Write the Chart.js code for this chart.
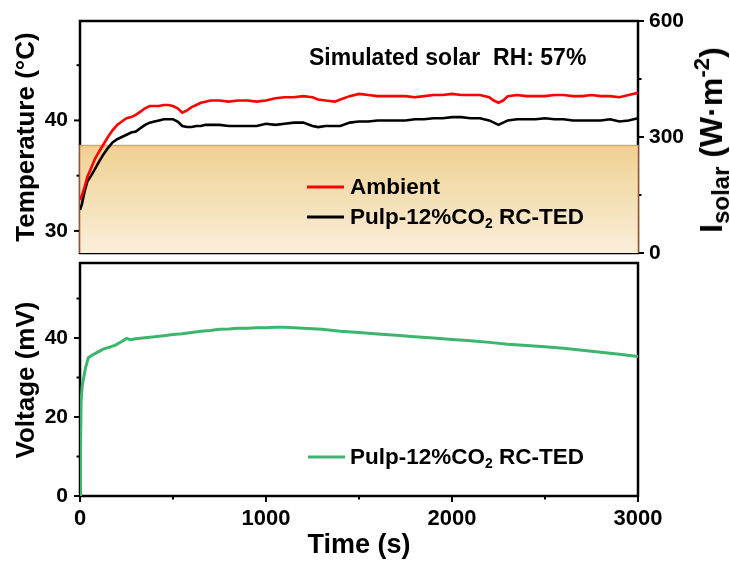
<!DOCTYPE html>
<html>
<head>
<meta charset="utf-8">
<script src="https://cdn.jsdelivr.net/npm/chart.js@4.4.1/dist/chart.umd.min.js"></script>
<style>
  html, body { margin: 0; padding: 0; background: #fff; }
  #wrap { position: relative; width: 730px; height: 563px; overflow: hidden;
          font-family: "Liberation Sans", Arial, sans-serif; font-weight: bold; color: #000; }
  canvas { position: absolute; left: 0; top: 0; }
  .txt { position: absolute; white-space: pre; line-height: 1; transform: translateY(-50%); }
  .rot { position: absolute; white-space: pre; line-height: 1; transform: translate(-50%, -50%) rotate(-90deg); }
  .ctr { position: absolute; white-space: pre; line-height: 1; transform: translate(-50%, -50%); }
  .key { position: absolute; height: 3px; width: 37px; transform: translateY(-50%); }
  sub { font-size: 0.62em; vertical-align: -0.28em; line-height: 0; }
  sup { font-size: 0.62em; vertical-align: 0.6em; line-height: 0; }
  .big sub { font-size: 0.75em; }
  .big sup { font-size: 0.7em; }
</style>
</head>
<body>
<div id="wrap">
  <canvas id="tempCanvas" width="730" height="563"></canvas>
  <canvas id="voltCanvas" width="730" height="563"></canvas>

  <div class="txt" style="left:309px; top:57px; font-size:23px;">Simulated solar  RH: 57%</div>

  <div class="key" style="left:307px; top:187px; background:#ff0000;"></div>
  <div class="txt" style="left:350px; top:187px; font-size:22.5px;">Ambient</div>
  <div class="key" style="left:307px; top:217px; background:#000;"></div>
  <div class="txt" style="left:350px; top:217px; font-size:22.5px;">Pulp-12%CO<sub>2</sub> RC-TED</div>

  <div class="key" style="left:308px; top:457px; background:#3db56f;"></div>
  <div class="txt" style="left:350px; top:457px; font-size:22.5px;">Pulp-12%CO<sub>2</sub> RC-TED</div>

  <div class="rot" style="left:25px; top:137px; font-size:26px;">Temperature (°C)</div>
  <div class="rot" style="left:25px; top:380px; font-size:26px;">Voltage (mV)</div>
  <div class="rot big" style="left:711px; top:140px; font-size:32px;">I<sub>solar</sub> (W·m<sup>-2</sup>)</div>
  <div class="ctr" style="left:359px; top:544px; font-size:27px;">Time (s)</div>
</div>

<script>
// ---- temperature run (s, °C) ----
const timeTemp = [0, 10, 25, 40, 60, 80, 100, 125, 150, 175, 200, 225, 250, 275, 300, 325, 350, 375, 400, 425,
  450, 475, 500, 525, 550, 575, 600, 625, 650, 675, 700, 750, 800, 850, 900, 950, 1000, 1050, 1100, 1150,
  1200, 1250, 1280, 1320, 1370, 1400, 1450, 1500, 1550, 1600, 1650, 1700, 1750, 1800, 1850, 1900, 1950, 2000,
  2050, 2100, 2150, 2200, 2225, 2250, 2275, 2300, 2350, 2400, 2450, 2500, 2550, 2600, 2650, 2700, 2750, 2800,
  2850, 2900, 2950, 3000];
const ambientTemp = [32.8, 33.2, 34.0, 34.9, 35.7, 36.5, 37.1, 37.8, 38.5, 39.1, 39.6, 39.9, 40.2, 40.3, 40.5,
  40.8, 41.1, 41.3, 41.3, 41.3, 41.4, 41.4, 41.3, 41.1, 40.7, 40.9, 41.2, 41.4, 41.6, 41.7, 41.8, 41.8, 41.7,
  41.8, 41.8, 41.7, 41.8, 42.0, 42.1, 42.1, 42.2, 42.1, 41.9, 41.8, 41.7, 41.9, 42.2, 42.4, 42.3, 42.2, 42.2,
  42.2, 42.2, 42.1, 42.2, 42.3, 42.3, 42.4, 42.3, 42.3, 42.3, 42.1, 41.8, 41.6, 41.8, 42.2, 42.3, 42.2, 42.2,
  42.2, 42.3, 42.3, 42.2, 42.2, 42.3, 42.2, 42.2, 42.1, 42.3, 42.5];
const tedTemp = [31.9, 32.4, 33.6, 34.5, 35.0, 35.6, 36.2, 36.9, 37.5, 38.0, 38.3, 38.5, 38.7, 38.9, 39.0,
  39.3, 39.6, 39.8, 39.9, 40.0, 40.1, 40.1, 40.1, 39.9, 39.5, 39.4, 39.4, 39.5, 39.5, 39.6, 39.6, 39.6, 39.5,
  39.5, 39.5, 39.5, 39.7, 39.6, 39.7, 39.8, 39.8, 39.5, 39.4, 39.5, 39.5, 39.5, 39.8, 39.9, 39.9, 40.0, 40.0,
  40.0, 40.0, 40.1, 40.1, 40.2, 40.2, 40.3, 40.3, 40.2, 40.2, 40.0, 39.8, 39.6, 39.8, 40.0, 40.1, 40.1, 40.1,
  40.2, 40.1, 40.1, 40.0, 40.0, 40.0, 40.0, 40.1, 39.9, 40.0, 40.2];

// ---- simulated solar irradiance (W/m²) over the run ----
const solarIrradiance = 278;
const solarSpan = [0, 3000];

// ---- output voltage (s, mV) ----
const timeVolt = [0, 3, 6, 12, 20, 30, 45, 60, 90, 125, 160, 190, 220, 250, 270, 300, 350, 400, 450, 500, 550,
  600, 650, 700, 750, 800, 850, 900, 950, 1000, 1050, 1100, 1150, 1200, 1300, 1400, 1500, 1600, 1700, 1800,
  1900, 2000, 2100, 2200, 2300, 2400, 2500, 2600, 2700, 2800, 2900, 3000];
const voltage = [0, 12, 24, 28, 30, 32.5, 35, 35.5, 36.3, 37.2, 37.7, 38.2, 39.0, 39.9, 39.6, 39.8, 40.1, 40.3,
  40.6, 40.9, 41.1, 41.4, 41.7, 41.9, 42.2, 42.3, 42.5, 42.5, 42.6, 42.6, 42.7, 42.7, 42.6, 42.5, 42.2, 41.7,
  41.4, 41.0, 40.7, 40.3, 40.0, 39.6, 39.3, 38.9, 38.4, 38.1, 37.8, 37.4, 36.9, 36.4, 35.9, 35.3];

// ---- axis ticks ----
const timeTicks = [0, 500, 1000, 1500, 2000, 2500, 3000];
const timeLabels = [0, 1000, 2000, 3000];
const tempTicks = [30, 35, 40, 45];
const tempLabels = [30, 40];
const solarTicks = [0, 150, 300, 450, 600];
const solarLabels = [0, 300, 600];
const voltTicks = [0, 10, 20, 30, 40, 50];
const voltLabels = [0, 20, 40];

const FONT = '"Liberation Sans", Arial, sans-serif';
const tickFont = { family: FONT, size: 21, weight: 'bold' };

const toPoints = (xs, ys) => xs.map((x, i) => ({ x, y: ys[i] }));

// Box frame around the plot area plus outward tick marks (long = labelled, short = minor)
function framePlugin(spec) {
  return {
    id: 'panelFrame',
    beforeDatasetsDraw(chart) {
      const { ctx, chartArea: a } = chart;
      ctx.save();
      ctx.strokeStyle = '#000';
      ctx.lineWidth = 2.5;
      ctx.strokeRect(a.left, a.top, a.right - a.left, a.bottom - a.top);
      ctx.lineWidth = 2;
      spec.forEach(({ id, side, values, major }) => {
        const s = chart.scales[id];
        values.forEach(v => {
          const p = s.getPixelForValue(v);
          const len = major.includes(v) ? 6 : 3.5;
          ctx.beginPath();
          if (side === 'left') { ctx.moveTo(a.left, p); ctx.lineTo(a.left - len, p); }
          else if (side === 'right') { ctx.moveTo(a.right, p); ctx.lineTo(a.right + len, p); }
          else { ctx.moveTo(p, a.bottom); ctx.lineTo(p, a.bottom + len); }
          ctx.stroke();
        });
      });
      ctx.restore();
    }
  };
}

function valueAxis(position, min, max, ticks, labels, width, padding) {
  return {
    type: 'linear', position, min, max,
    afterBuildTicks: s => { s.ticks = ticks.map(v => ({ value: v })); },
    afterFit: s => { s.width = width; },
    grid: { display: false, drawTicks: true, tickLength: 6 },
    border: { display: false },
    ticks: { font: tickFont, color: '#000', padding, autoSkip: false,
             callback: v => (labels.includes(v) ? String(v) : '') }
  };
}

const baseOptions = {
  responsive: false, animation: false, events: [],
  plugins: { legend: { display: false }, tooltip: { enabled: false } }
};

// ---- upper panel: temperatures over the solar-irradiance band ----
new Chart(document.getElementById('tempCanvas'), {
  type: 'line',
  data: {
    datasets: [
      { label: 'Ambient', data: toPoints(timeTemp, ambientTemp), yAxisID: 'yT',
        borderColor: '#ff0000', borderWidth: 2.6, pointRadius: 0, tension: 0, order: 1 },
      { label: 'Pulp-12%CO2 RC-TED', data: toPoints(timeTemp, tedTemp), yAxisID: 'yT',
        borderColor: '#000000', borderWidth: 2.6, pointRadius: 0, tension: 0, order: 2 },
      { label: 'Simulated solar',
        data: [{ x: solarSpan[0], y: 0 }, { x: solarSpan[0], y: solarIrradiance },
               { x: solarSpan[1], y: solarIrradiance }, { x: solarSpan[1], y: 0 }],
        yAxisID: 'yS', fill: 'origin', clip: false, pointRadius: 0, tension: 0, order: 3,
        borderColor: 'rgba(238,150,95,0.9)', borderWidth: 1.3,
        backgroundColor: ctx => {
          const { chart } = ctx;
          const ys = chart.scales.yS;
          if (!ys || !chart.chartArea) return 'rgb(242,220,170)';
          const g = chart.ctx.createLinearGradient(0, ys.getPixelForValue(solarIrradiance), 0, ys.getPixelForValue(0));
          g.addColorStop(0, 'rgb(239,209,146)');
          g.addColorStop(1, 'rgb(250,239,218)');
          return g;
        } }
    ]
  },
  options: {
    ...baseOptions,
    layout: { padding: { left: 0, right: 0, top: 21, bottom: 310 } },
    scales: {
      x: { type: 'linear', min: 0, max: 3000, display: false },
      yT: valueAxis('left', 28, 49, tempTicks, tempLabels, 80, 6),
      yS: valueAxis('right', 0, 600, solarTicks, solarLabels, 92, 5)
    }
  },
  plugins: [framePlugin([
    { id: 'yT', side: 'left', values: tempTicks, major: tempLabels },
    { id: 'yS', side: 'right', values: solarTicks, major: solarLabels }
  ])]
});

// ---- lower panel: generated voltage ----
new Chart(document.getElementById('voltCanvas'), {
  type: 'line',
  data: {
    datasets: [
      { label: 'Pulp-12%CO2 RC-TED', data: toPoints(timeVolt, voltage),
        borderColor: '#3db56f', borderWidth: 3, pointRadius: 0, tension: 0 }
    ]
  },
  options: {
    ...baseOptions,
    layout: { padding: { left: 0, right: 92, top: 263, bottom: 37 } },
    scales: {
      x: {
        type: 'linear', position: 'bottom', min: 0, max: 3000,
        afterBuildTicks: s => { s.ticks = timeTicks.map(v => ({ value: v })); },
        afterFit: s => { s.height = 30; },
        grid: { display: false, drawTicks: true, tickLength: 6 },
        border: { display: false },
        ticks: { font: { ...tickFont, size: 22 }, color: '#000', padding: 4, autoSkip: false, maxRotation: 0,
                 callback: v => (timeLabels.includes(v) ? String(v) : '') }
      },
      y: valueAxis('left', 0, 59, voltTicks, voltLabels, 80, 6)
    }
  },
  plugins: [framePlugin([
    { id: 'y', side: 'left', values: voltTicks, major: voltLabels },
    { id: 'x', side: 'bottom', values: timeTicks, major: timeLabels }
  ])]
});
</script>
</body>
</html>
